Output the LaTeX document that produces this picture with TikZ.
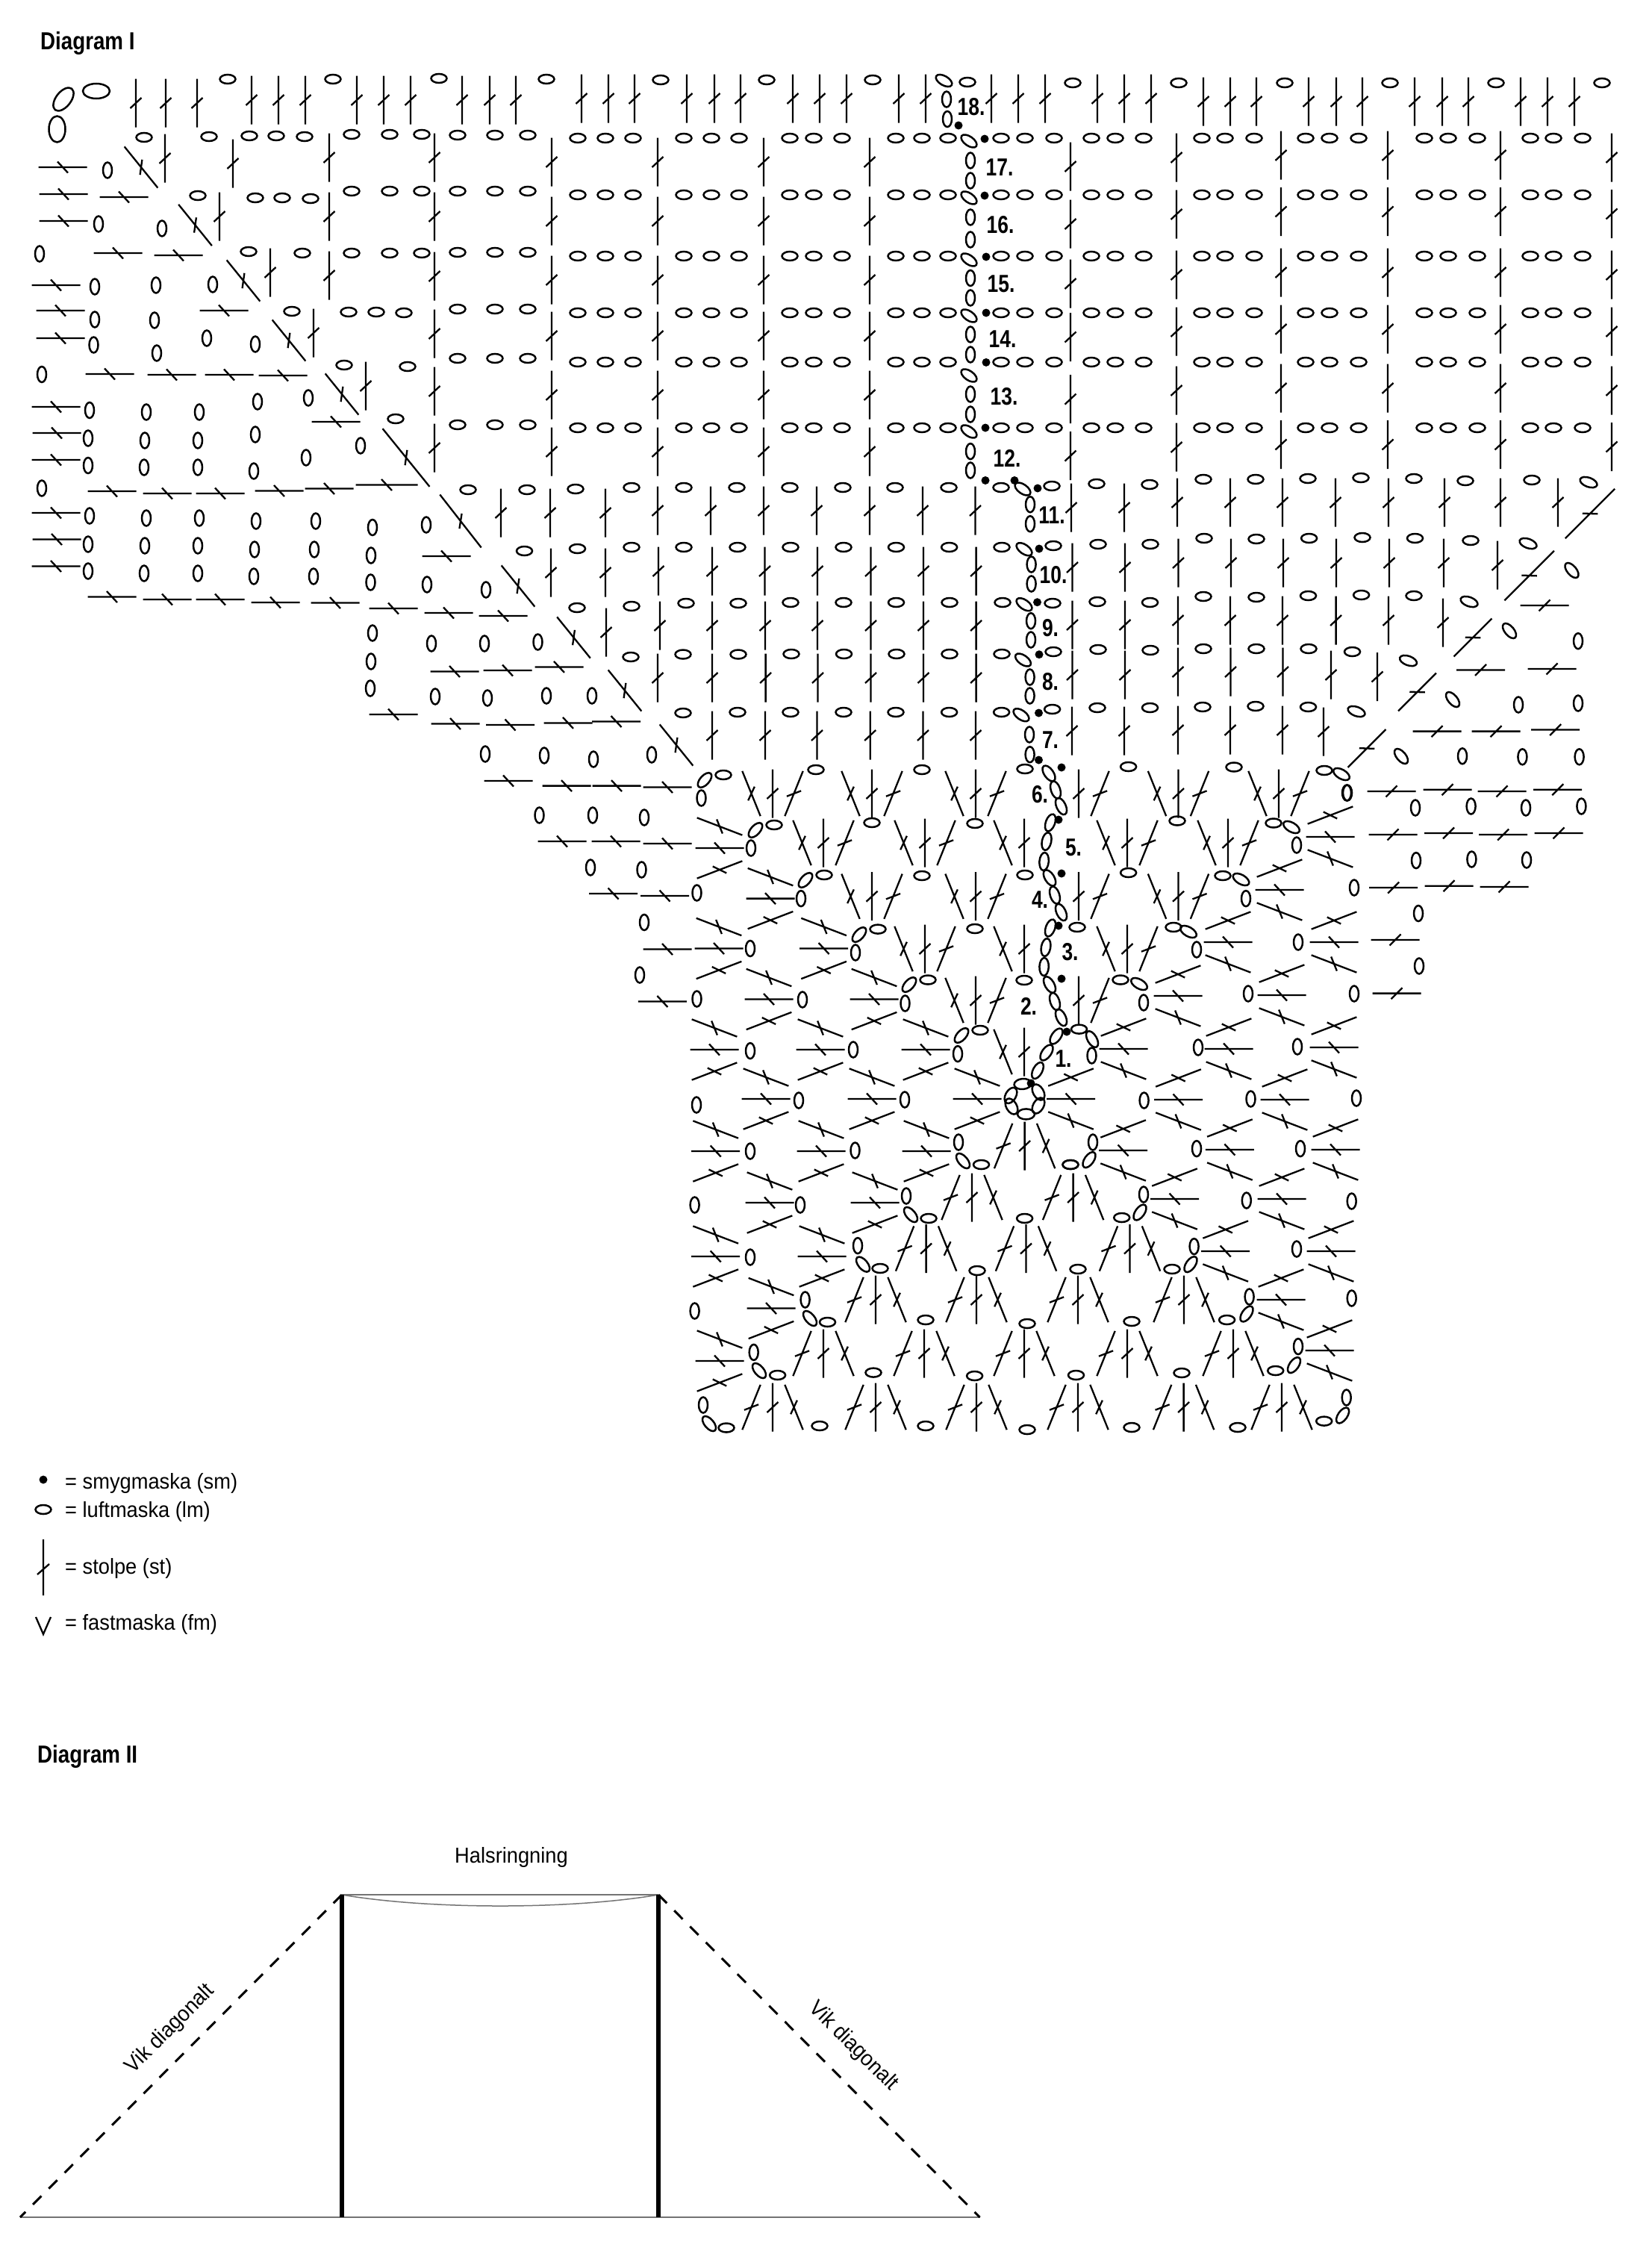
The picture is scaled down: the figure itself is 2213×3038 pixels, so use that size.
\documentclass[tikz,border=0pt]{standalone}
\usepackage{fontspec}
\setmainfont{Liberation Sans}
\newfontfamily\narrowfont[FakeStretch=0.94]{Liberation Sans}
\newfontfamily\headfont[FakeStretch=0.84]{Liberation Sans}
\newfontfamily\numfont[FakeStretch=0.80]{Liberation Sans}
\usetikzlibrary{positioning}

\newcommand{\lmH}[2]{\draw[lmline] (#1,#2) ellipse [x radius=10.5, y radius=6];}
\newcommand{\lmV}[2]{\draw[lmline] (#1,#2) ellipse [x radius=6, y radius=10.5];}
\newcommand{\lmT}[3]{\draw[lmline, shift={(#1,#2)}, rotate=#3] (0,0) ellipse [x radius=12, y radius=6.2];}
\newcommand{\stolpe}[3]{\draw[stline, shift={(#1,#2)}, rotate=#3] (0,-32.5) -- (0,32.5) (-7.5,7) -- (7.5,-7);}
\newcommand{\stolpeL}[4]{\draw[stline, shift={(#1,#2)}, rotate=#3] (0,-#4) -- (0,#4) (-7.5,7) -- (7.5,-7);}
\newcommand{\stolpeF}[2]{\draw[stline, shift={(#1,#2)}] (-32.5,0) -- (32.5,0) (-7.5,7.5) -- (7.5,-7.5);}
\newcommand{\fanUp}[2]{\stolpe{#1-28.5}{#2}{22}\stolpe{#1}{#2}{0}\stolpe{#1+28.5}{#2}{-22}}
\newcommand{\fanDown}[2]{\stolpe{#1-28.5}{#2}{-22}\stolpe{#1}{#2}{0}\stolpe{#1+28.5}{#2}{22}}
\newcommand{\fanLeft}[2]{\stolpe{#1}{#2-29}{69}\stolpe{#1}{#2}{90}\stolpe{#1}{#2+29}{111}}
\newcommand{\fanRight}[2]{\stolpe{#1}{#2-29}{111}\stolpe{#1}{#2}{90}\stolpe{#1}{#2+29}{69}}
\newcommand{\sm}[2]{\fill (#1,#2) circle [radius=5.5];}

\begin{document}
\begin{tikzpicture}[
    x=1pt, y=-1pt,
    lmline/.style={draw=black, line width=2.5pt},
    stline/.style={draw=black, line width=2.3pt},
    heading/.style={font=\headfont\bfseries\fontsize{33}{36}\selectfont, inner sep=0pt, anchor=base west},
    rownum/.style={font=\numfont\bfseries\fontsize{33}{36}\selectfont, inner sep=0pt},
    legendtext/.style={font=\narrowfont\fontsize{29}{32}\selectfont, inner sep=0pt, anchor=base west},
    plantext/.style={font=\narrowfont\fontsize{29}{32}\selectfont, inner sep=0pt},
    thinline/.style={draw=black!55, line width=1.5pt},
    foldline/.style={draw=black, line width=3pt, dash pattern=on 16pt off 14pt},
    panelline/.style={draw=black, line width=6pt}
]
\useasboundingbox (0,0) rectangle (2213,3038);

\node[heading] (diagA) at (54,66) {Diagram I};
\node[heading] (diagB) at (50,2361) {Diagram II};

% row numbers
\foreach \n/\x/\y in {18/1301/143.5,17/1339/224,16/1340/301,15/1341/380.5,14/1343/454,13/1345/531,12/1349/613.6,11/1409/690,10/1411/770,9/1407/840.7,8/1407/912.7,7/1407/991,6/1393/1064,5/1438/1135,4/1393/1205,3/1433.5/1275,2/1378/1348,1/1424.5/1418}
    \node[rownum] (row\n) at (\x,\y) {\n.};

% top row
\foreach \y/\xs in {138/{182,222,264},134/{337,373,409,478,514,550,619,656,691},132/{779,815,850,920,957,992,1062,1098,1134,1204,1240,1328,1364,1400,1470,1506,1542},136/{1612,1648,1683,1753,1790,1825,1895,1932,1967,2037,2073,2109}}
    \foreach \x in \xs {\stolpe{\x}{\y}{0}}
\foreach \x/\y in {305/106,446/106,588/105,732/106,885/107,1027/107,1169/107,1296/110,1437/111,1579/111,1721/111,1862/111,2004/111,2146/111}
    {\lmH{\x}{\y}}
\draw[lmline] (129,122) ellipse [x radius=18, y radius=10];
\draw[lmline] (76.5,173) ellipse [x radius=11, y radius=17.5];
\draw[lmline, shift={(85,133)}, rotate=52] (0,0) ellipse [x radius=18, y radius=10];
\lmT{1264.5}{108}{-30}
\lmV{1268}{133}
\lmV{1269}{159.5}

% block of rows above the middle
\foreach \y in {185,261,343,419,485,573}
    \foreach \x in {774,811,848,916,953,990,1058,1090,1128,1200,1235,1270,1341,1373,1412,1462,1494,1532,1610,1641,1680,1749,1781,1820,1908,1940,1979,2050,2081,2120}
        {\lmH{\x}{\y}}
\foreach \y in {181,256,338,414,480,569}
    \foreach \x in {613,663,707} {\lmH{\x}{\y}}
\foreach \y in {180,256,339}
    \foreach \x in {471,522,565} {\lmH{\x}{\y}}
\foreach \x/\y in {193/184,280/183,334/182,370/182,408/183,265/262,342/265,378/265,416/266,333/337,405/339,391/417,467/418,504/418,541/419,461/489,546/491,530/561}
    {\lmH{\x}{\y}}

\foreach \x in {739,881,1023,1165}
    \foreach \y in {217,296,375,450,529,605} {\stolpe{\x}{\y}{0}}
\foreach \y in {223,300,380,451.5,534.6,610.6} {\stolpe{1434}{\y}{0}}
\foreach \y in {211,287,368,444,523,599} {\stolpe{1576}{\y}{0}}
\foreach \x in {1716,1859,2010}
    \foreach \y in {208,283.5,365,441,520,595.5} {\stolpe{\x}{\y}{0}}
\foreach \y in {211,286.5,368,444,523,598.5} {\stolpe{2159}{\y}{0}}
\foreach \y in {211,290,370,447,524,600} {\stolpe{582}{\y}{0}}
\foreach \y in {211,290,369} {\stolpe{441}{\y}{0}}
\foreach \x/\y in {221/212,312/219,294/290,362/365,420/446,490/517} {\stolpe{\x}{\y}{0}}

% rows 7 to 11
\foreach \y/\xs in {653/{846,916,987,1058,1129,1199,1271,1341},733/{846,916,988,1059,1130,1200.5,1271.6,1342},807/{1059,1130,1200.5,1272,1343},876/{1060,1130.5,1201,1272,1342},954/{1059,1130,1200,1271.6,1341.6}}
    \foreach \x in \xs {\lmH{\x}{\y}}
\foreach \x/\y in {627/656,706/656,771/655,702.5/738,773.5/735,773/814,846/812,919/808,989/808,845/880,915/876.5,989/876.5,915/955,988/954,1093/1031,1235/1031,1373/1030,1511.6/1027,1653/1027.5,1168/1102,1306/1103,1577/1099.5,1235/1173,1373/1172,1511.6/1169,1306/1244,1443/1242,1372/1313,
    1409/651,1469/648,1540/649,1612/642,1682/642,1752/641,1823/640,1894/641,1963/644,2052/643,
    1411/731,1471/729,1541/729,1613/721,1683/722,1753.6/721,1825/720,1895.5/721,1970/724,
    1410/808,1470/806,1540.5/807,1612/799,1683/800,1752.5/798,1823.6/797,1894/798,
    1411/873,1471/870,1541/871,1612/869,1683/869,1753/869,1811.5/873,
    1409.6/950,1470/948,1540.5/948,1611/947,1682/946,1752.5/947}
    {\lmH{\x}{\y}}
\foreach \y/\xs in {687/{671,737,811},684/{881,952,1023,1094,1165,1236,1306.5},767/{738,811},765/{882,954,1024.5,1095,1166.5,1237,1307.6},847/{812},838/{884,954,1025,1095,1166.5,1237,1307.6},908/{881,954,1025.6,1095.5,1166.5,1237,1307.6},985/{954,1025,1094.5,1165.7,1236.5,1307},
    680/{1435,1506},673/{1577,1648,1718,1789,1860,1935,2010,2087},760/{1436.5,1507},754/{1578.5,1649,1719,1790,1861,1934},757/{2006},837/{1436.5,1507},831/{1578,1648,1718,1789.6,1860},834/{1933},904/{1436.5,1507,1783},900/{1578,1648.5,1718.5},906.5/{1845},979/{1436,1506},978/{1578,1648,1718},980/{1773}}
    \foreach \x in \xs {\stolpe{\x}{\y}{0}}

% slanted ovals and dots along the start of the rows
\foreach \y in {189,265,348,423,503,578} {\lmT{1298}{\y}{-35}}
\foreach \y in {215,242,291,321,372.5,399,448,475,528,555,604.6,630} {\lmV{1300}{\y}}
\foreach \x/\y in {1380/675.7,1380/701.7,1381.6/756,1381.6/782,1381/831.7,1381/857,1379.6/907,1379.6/932,1379/984,1379.6/1010.7} {\lmV{\x}{\y}}
\foreach \x/\y in {1370/655,1372/735.7,1372/809.7,1370.5/884,1368/957.7} {\lmT{\x}{\y}{-35}}
\foreach \x/\y/\a in {1405/1036/-55,1414/1058/-72,1421.5/1080/-65,1407/1102/70,1402/1127/78,1398.6/1154/85,1406/1176/-58,1413/1199/-72,1421.5/1222/-65,1407/1243/70,1401/1269/80,1398.6/1295/88,1406/1319/-60,1413/1341.5/-72,1421.5/1363/-65,1415/1388/55,1402/1410/55,1390/1434/62}
    {\lmT{\x}{\y}{\a}}
\foreach \x/\y in {1284/168,1319/186,1319/262,1321/344,1321/419,1321/485.4,1320/573,1320/643.5,1359/643.5,1390/654,1392/735,1389.5/806.7,1392/876.7,1391.5/955,1391.5/1018,1422/1028,1418/1098,1422/1170,1418/1240,1422/1311,1429/1382,1381/1451}
    {\sm{\x}{\y}}

% steps on the left
\foreach \x/\y in {84/224,85/260,166/264,85/296,158/339,239/342,75/382,81/416,81/453,300/416,147/501,230/502,307/502,379/503,75/545,76/580,75/616,450/565,150/658,224/661,295/661,374/657.5,441/654.5,75/687,76/722.5,75/758.5,598/745,150/799.5,224/803,295/803,369/807,449/807.5,527/815,601/821,674/825,609/899.5,680/898,749/893.4,527/957,610/969.5,683.5/971,761/968.4,825.5/966.5,681/1046,759/1052.6,826/1052.6,894/1054.5,753/1127,825/1127,894/1130,821.6/1197,890.5/1200,894/1271.5,887.4/1341.5}
    {\stolpe{\x}{\y}{90}}
\stolpeL{518}{649.5}{90}{41.5}
\foreach \x/\y in {144/228,132/300,217/306,53/340,127/384,209/382,285/381,127/428,207/429,125.5/462,210/473,277/453,342/461,56/501.5,345/538,413/533,120/549.5,196/552,267/552,118/587,194/590,265/590,342/582,483/597,410/613,118/623.5,193/626,265/626,340/631,56/654,120/691,118/729,118/765,196/694,194/731,193/768,267/694,265/731,265/768,343/698,341/736,340/772,423/698,421/736,420/772,499/706.5,497/744,496.5/780,571/703,572/783,651/790,499/848,497/886,496/922,578/862,649/862,720.5/860,583/933,653/935,732/932,793/932,650/1010,729/1012,795/1017,873/1011,722.5/1092,794/1092,863/1095,791/1162,859.5/1165,863/1235.5,857/1306}
    {\lmV{\x}{\y}}
\foreach \x/\y in {189/224,261.5/301.5,326/376,387/456,458/528,694/785,768.5/854,837/925,906/998}
    {\stolpeL{\x}{\y}{39}{35.5}}
\stolpeL{544}{613}{39}{50}
\stolpeL{617}{698}{38}{45}

% steps on the right
\foreach \x/\y in {2079/896,1983.5/897.5,2069/811,1925/979.6,2004/979.6,2083.6/977.5,1864/1060,1939/1057.7,2012/1060,2086.7/1057.7,1866/1118,1940.5/1116,2013.6/1118,2088/1116,1866.6/1189,1941/1186.7,2015/1188,1869/1259,1871/1330.6}
    {\stolpeF{\x}{\y}}
\foreach \x/\y in {2114/858.7,2034/944,2114/942,1959/1012.8,2039.4/1013.8,2115.6/1013.8,1805/1062,1896/1082,1970.6/1080,2044/1082,2118.4/1080,1897/1152.6,1971.4/1151,2045/1152,1814/1189,1900/1223.5,1901/1294,1814/1331}
    {\lmV{\x}{\y}}
\foreach \x/\y/\a in {2128/646/-20,2047/728/-20,1968/806/-20,1886.5/885/-20,1817/953/-20,2105.5/764/-50,2022/845/-50,1946/937/-50,1877/1013/-50}
    {\lmT{\x}{\y}{\a}}
\foreach \x/\y/\h in {2130/688/47,2048.6/771/47,1973/854/36,1898.5/927/36,1831/1002.5/36}
    {\stolpeL{\x}{\y}{-45}{\h}}

% middle of the chart
\foreach \y/\xs in {1063/{1035,1168,1307,1578.5,1713},1129/{1103,1239,1510,1645},1200.7/{1168,1307,1578.5},1271/{1239,1510},1340/{1307}}
    \foreach \x in \xs {\fanUp{\x}{\y}}
\foreach \y in {1129,1271,1409} {\stolpe{1343.5}{\y}{22}\stolpe{1372}{\y}{0}}
\foreach \y in {1063,1200.7,1340} {\stolpe{1445}{\y}{0}\stolpe{1473.5}{\y}{-22}}
\foreach \x/\y in {964/1136,1032/1203.6,1103.6/1270.5,963/1270.5,1171/1338.5,1030/1338.5,1240/1406,1099/1406,957/1406,1309/1472,1168/1472,1026/1472,1241/1542,1100/1542,958.7/1542,1172/1611,1031/1611,1101/1683,958.7/1683,1033/1752.5,964/1823}
    {\fanLeft{\x}{\y}}
\foreach \x/\y in {1782/1121,1714/1192,1645/1262,1787/1262,1578/1334,1717/1333,1505/1405,1646/1405,1787/1403,1434.5/1472,1578.5/1473,1721/1473,1504.6/1541,1647.4/1540,1789/1540,1573.5/1606,1717/1606,1641.7/1676,1783/1676,1716/1741,1781/1809}
    {\fanRight{\x}{\y}}
\foreach \x/\y in {1372.6/1535,1302/1604,1437.6/1604,1240.6/1672.5,1374.5/1672.5,1513.5/1672.5,1173/1741,1308/1741,1444/1741,1586/1741,1103/1813,1238/1813,1372/1813,1510/1813,1652/1813,1035/1885,1173/1885,1308/1885,1444/1885,1585.6/1885,1717/1885}
    {\fanDown{\x}{\y}}

\foreach \x/\y in {1005/1270.5,933.5/1196,1075/1339,933.5/1338,1143/1406,1005/1407.6,1212/1473,1070/1474,933/1480,1145.5/1541,1005/1542,1072/1614,930.6/1614,1005/1684,930.6/1756,
    1532.6/1474,1675.5/1472,1817/1471,1603/1538.6,1742/1538.6,1669.8/1608,1810.7/1609,1737/1673,1810.7/1739,1605/1403,1738/1402,1739/1262,1672/1331}
    {\lmV{\x}{\y}}
\foreach \x/\y in {1434/1560,1372.6/1632,1309/1702,1444/1700,1240/1768,1376/1773,1516/1770,1170/1838.6,1305.6/1843,1441.5/1842,1583/1839,1098/1910,1240/1910,1376/1915,1516/1912,1658/1912}
    {\lmH{\x}{\y}}
% corners, upper left and upper right
\foreach \a/\b/\c/\d/\e/\f in {969/1038/944/1045/939.5/1069,1037/1105/1012/1112/1006/1136,1104/1172/1079/1179/1073/1203.6,1176/1244.6/1151/1252/1146/1276,1243/1312.5/1218/1319/1212.5/1344,1313/1380/1288/1387/1283/1411.6}
    {\lmH{\a}{\b}\lmT{\c}{\d}{48}\lmV{\e}{\f}}
\foreach \a/\b/\c/\d/\e/\f in {1774/1032/1797/1037/1804/1062,1706/1102.5/1730/1108/1737/1132,1638/1173/1662.5/1178/1669/1203.6,1572/1242/1592/1248/1603/1272,1501/1312.5/1526/1318/1532/1343}
    {\lmH{\a}{\b}\lmT{\c}{\d}{-30}\lmV{\e}{\f}}
\lmH{1445.5}{1378.6}\lmT{1463}{1392}{-60}\lmV{1462.5}{1414}
% corners, lower left and lower right
\foreach \a/\b/\c/\d/\e/\f in {1284/1530/1290/1555/1314.5/1560,1214/1602/1220/1627/1244/1632,1149/1668.6/1156/1693.6/1179/1699,1078.6/1741/1085/1766/1108.5/1771,1009.7/1811.4/1017/1836/1041.6/1842,942/1882/950/1907/973/1912.5}
    {\lmV{\a}{\b}\lmT{\c}{\d}{-50}\lmH{\e}{\f}}
\foreach \a/\b/\c/\d/\e/\f in {1464/1530/1459/1553.6/1434/1560,1532/1600/1527/1624/1502.7/1631,1599.6/1669.6/1595/1693.6/1570/1700,1673.6/1737/1670/1760/1643.6/1768,1739/1803.6/1733.5/1828.6/1708.7/1836,1803.7/1872/1798.6/1896/1773.7/1903.6}
    {\lmV{\a}{\b}\lmT{\c}{\d}{55}\lmH{\e}{\f}}

% ring
\foreach \x/\y/\a in {1370/1452/5,1354/1467.4/60,1391/1463/-60,1355/1482/-60,1391/1481/60,1374.5/1492.4/0}
    {\draw[lmline, shift={(\x,\y)}, rotate=\a] (0,0) ellipse [x radius=11.5, y radius=7];}

% legend
\sm{58}{1982}
\lmH{58}{2022}
\draw[stline] (58,2062) -- (58,2137) (50,2109) -- (66,2095);
\coordinate (vl) at (48,2166);
\coordinate (vb) at (58,2189);
\coordinate (vr) at (68,2166);
\draw[stline] (vl) -- (vb) -- (vr);
\node[legendtext] (sm) at (87,1994) {= smygmaska (sm)};
\node[legendtext] (lm) at (87,2032) {= luftmaska (lm)};
\node[legendtext] (st) at (87,2108) {= stolpe (st)};
\node[legendtext] (fm) at (87,2183) {= fastmaska (fm)};

% diagram II
\coordinate (topL) at (458,2538);
\coordinate (topR) at (882,2538);
\coordinate (botL) at (458,2970);
\coordinate (botR) at (882,2970);
\coordinate (farL) at (27,2970);
\coordinate (farR) at (1312.5,2970);
\draw[thinline] (topL) -- (topR);
\draw[thinline] (topL) .. controls (575,2558) and (765,2558) .. (topR);
\draw[thinline] (farL) -- (farR);
\draw[panelline] (topL) -- (botL);
\draw[panelline] (topR) -- (botR);
\draw[foldline] (topL) -- (farL);
\draw[foldline] (topR) -- (farR);
\node[plantext] (neck) at (685,2488) {Halsringning};
\node[plantext, rotate=45] (foldL) at (228,2718) {Vik diagonalt};
\node[plantext, rotate=-45] (foldR) at (1143,2741) {Vik diagonalt};
\end{tikzpicture}
\end{document}
